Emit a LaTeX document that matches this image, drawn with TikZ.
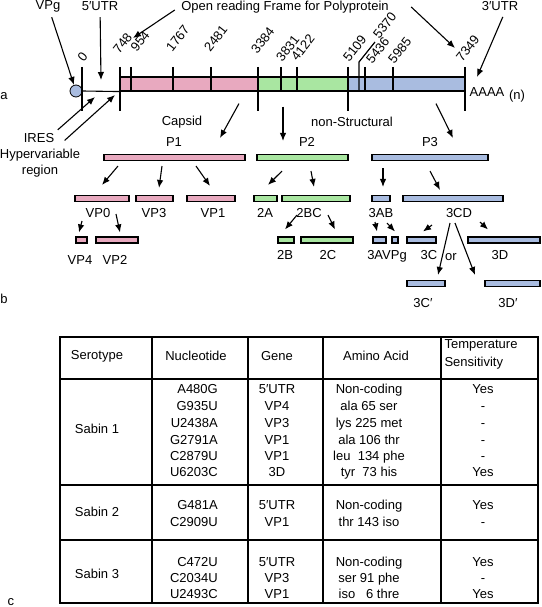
\documentclass[tikz,border=0pt]{standalone}
\usepackage{fontspec}
\setmainfont{Liberation Sans}
\usetikzlibrary{arrows.meta}
\definecolor{capsid}{HTML}{E8A9BF}
\definecolor{nonstr}{HTML}{A9E6A1}
\definecolor{repl}{HTML}{A9BCE0}

\begin{document}
\begin{tikzpicture}[x=1pt, y=-1pt, font=\fontsize{13}{16}\selectfont,
    seg/.style={draw, line width=1.1pt, inner sep=0pt, minimum height=14},
    bar/.style={draw, line width=1.1pt, inner sep=0pt, minimum height=6},
    arr/.style={-{Latex[length=8pt,width=6.5pt]}, line width=1.1pt},
    cell/.style={inner sep=0pt, text height=9pt, text depth=3pt}]
    \useasboundingbox (0,0) rectangle (541,607);

    \node (la) at (4,96) {a};
    \node (lb) at (4,299) {b};
    \node (lc) at (11,602) {c};

    \node[seg, fill=capsid, minimum width=138] (seg1) at (189,84) {};
    \node[seg, fill=nonstr, minimum width=90] (seg2) at (303,84) {};
    \node[seg, fill=repl, minimum width=117] (seg3) at (406.5,84) {};
    \node[circle, draw, fill=repl, line width=0.8pt, inner sep=0pt, minimum size=12] (vpg) at (76,91) {};
    \draw[line width=1.1pt] (vpg.east) -- (seg1.south west);

    \foreach \x in {82,120,258,348,465}
        \draw[line width=1.2pt] (\x,67) -- (\x,111);
    \foreach \x in {131,173,211,281,297,365,393}
        \draw[line width=1.2pt] (\x,67) -- (\x,91);
    \draw[line width=1.2pt] (359,91) -- (359,62) -- (375,42);
    \foreach \x/\y/\t in {84/63/0, 119.5/55/748, 137/53/954, 172.5/53/1767, 210.5/53/2481,
        257.5/55/3384, 282.5/63/3831, 297.5/62/4122, 349.5/63/5109, 379.5/40/5370,
        372.5/65/5436, 394.5/65/5985, 462.5/63/7349}
        \node[rotate=52, anchor=south west, inner sep=0pt] (t\t) at (\x,\y) {\t};

    \node (polya) at (487,92) {AAAA};
    \node (polyn) at (517,96) {(n)};

    \node (vpgt) at (48,6) {VPg};
    \node (utr5) at (100,6) {5′UTR};
    \node (orf) at (285,7) {Open reading Frame for Polyprotein};
    \node (utr3) at (500,6) {3′UTR};
    \node (ires) at (39,138) {IRES};
    \node[align=center] (hyper) at (40,163) {Hypervariable\\region};
    \node (capl) at (182,122) {Capsid};
    \node (nsl) at (352,122) {non-Structural};

    \coordinate (utr5p) at (101,80);
    \coordinate (orfl) at (133,38);
    \coordinate (orfr) at (455,48);
    \coordinate (utr3p) at (477,77);
    \coordinate (iresp) at (95,97);
    \coordinate (hyperp) at (115,95);

    \draw[arr, shorten <=2pt] (vpgt) -- (vpg);
    \draw[arr, shorten <=3pt] (utr5) -- (utr5p);
    \draw[arr] ([xshift=-3,yshift=-3]orf.west) -- (orfl);
    \draw[arr] ([xshift=19]orf.east) -- (orfr);
    \draw[arr, shorten <=3pt] ([xshift=4]utr3.south) -- (utr3p);
    \draw[arr] (ires.north east) -- (iresp);
    \draw[arr] ([xshift=-19,yshift=5]hyper.north east) -- (hyperp);

    \node[bar, fill=capsid, minimum width=141] (p1) at (174.5,157.5) {};
    \node[bar, fill=nonstr, minimum width=91] (p2) at (302.5,157.5) {};
    \node[bar, fill=repl, minimum width=116] (p3) at (430,157.5) {};
    \node (p1l) at (174,142) {P1};
    \node (p2l) at (307,142) {P2};
    \node (p3l) at (430,142) {P3};

    \draw[arr] ([xshift=50,yshift=-12]seg1.south) -- ([xshift=45.5,yshift=16]p1.north);
    \draw[arr] ([xshift=-20,yshift=-15]seg2.south) -- ([xshift=-19.5,yshift=13]p2.north);
    \draw[arr] ([xshift=29.5,yshift=-12]seg3.south) -- ([xshift=23,yshift=16]p3.north);

    \node[bar, fill=capsid, minimum width=54] (vp0) at (102,198.5) {};
    \node[bar, fill=capsid, minimum width=37] (vp3) at (154.5,198.5) {};
    \node[bar, fill=capsid, minimum width=48] (vp1) at (211,198.5) {};
    \node[bar, fill=nonstr, minimum width=23] (a2) at (265.5,198.5) {};
    \node[bar, fill=nonstr, minimum width=68] (bc2) at (316,198.5) {};
    \node[bar, fill=repl, minimum width=18] (ab3) at (381,198.5) {};
    \node[bar, fill=repl, minimum width=100] (cd3) at (453,198.5) {};
    \node (vp0l) at (98,213) {VP0};
    \node (vp3l) at (154,213) {VP3};
    \node (vp1l) at (213,213) {VP1};
    \node (a2l) at (265,213) {2A};
    \node (bc2l) at (309,213) {2BC};
    \node (ab3l) at (381,213) {3AB};
    \node (cd3l) at (459,213) {3CD};

    \draw[arr] ([xshift=-56.5,yshift=-5]p1.south) -- ([yshift=10]vp0.north);
    \draw[arr] ([xshift=-12.5,yshift=-5]p1.south) -- ([xshift=4.5,yshift=7]vp3.north);
    \draw[arr] ([xshift=21.5,yshift=-5]p1.south) -- ([xshift=-1,yshift=9]vp1.north);
    \draw[arr] ([xshift=-20.5,yshift=-10]p2.south) -- ([xshift=2.5,yshift=10]a2.north);
    \draw[arr] ([xshift=8.5,yshift=-10]p2.south) -- ([xshift=-2,yshift=8]bc2.north);
    \draw[arr] ([xshift=-47,yshift=-7]p3.south) -- ([xshift=2,yshift=8]ab3.north);
    \draw[arr] ([yshift=-10]p3.south) -- ([xshift=-13,yshift=5]cd3.north);

    \node[bar, fill=capsid, minimum width=11] (vp4) at (81.5,240) {};
    \node[bar, fill=capsid, minimum width=42] (vp2) at (117,240) {};
    \node[bar, fill=nonstr, minimum width=16] (b2) at (286,240) {};
    \node[bar, fill=nonstr, minimum width=52] (c2) at (327,240) {};
    \node[bar, fill=repl, minimum width=13] (a3) at (379.5,240) {};
    \node[bar, fill=repl, minimum width=6] (vpg3) at (395,240) {};
    \node[bar, fill=repl, minimum width=29] (c3) at (421.5,240) {};
    \node[bar, fill=repl, minimum width=72] (d3) at (504,240) {};
    \node (vp4l) at (80,260) {VP4};
    \node (vp2l) at (115,260) {VP2};
    \node (b2l) at (285,255) {2B};
    \node (c2l) at (328,255) {2C};
    \node (avpgl) at (387,256) {3AVPg};
    \node (c3l) at (429,255) {3C};
    \node (orl) at (451,257) {or};
    \node (d3l) at (500,255) {3D};

    \draw[arr] ([xshift=-20,yshift=-19]vp0.south) -- ([xshift=-2.5,yshift=4]vp4.north);
    \draw[arr] ([xshift=14,yshift=-12]vp0.south) -- ([xshift=3,yshift=4]vp2.north);
    \draw[arr] ([xshift=-19,yshift=-13]bc2.south) -- ([xshift=-1,yshift=7]b2.north);
    \draw[arr] ([xshift=12,yshift=-13]bc2.south) -- ([xshift=8,yshift=7]c2.north);
    \draw[arr] ([xshift=-6,yshift=-20]ab3.south) -- ([xshift=-2.5,yshift=5]a3.north);
    \draw[arr] ([xshift=6,yshift=-21]ab3.south) -- ([yshift=5]vpg3.north);
    \draw[arr] ([xshift=-21,yshift=-23]cd3.south) -- ([xshift=1.5,yshift=5]c3.north);
    \draw[arr] ([xshift=27,yshift=-20]cd3.south) -- ([xshift=-16,yshift=7]d3.north);

    \node[bar, fill=repl, minimum width=38] (c3p) at (426,283.5) {};
    \node[bar, fill=repl, minimum width=55] (d3p) at (512.5,283.5) {};
    \node (c3pl) at (423,303) {3C′};
    \node (d3pl) at (508,303) {3D′};

    \draw[arr] ([xshift=-3,yshift=-21]cd3.south) -- ([xshift=12,yshift=5]c3p.north);
    \draw[arr] ([xshift=2,yshift=-21]cd3.south) -- ([xshift=-37.5,yshift=5]d3p.north);

    \draw[line width=1.3pt] (60,337) rectangle (538,603);
    \foreach \x in {152,248,323,441}
        \draw[line width=1.3pt] (\x,337) -- (\x,603);
    \foreach \y in {379,485,540}
        \draw[line width=1.3pt] (60,\y) -- (538,\y);

    \node (hsero) at (97,356) {Serotype};
    \node (hnuc) at (196,356) {Nucleotide};
    \node (hgene) at (277,356) {Gene};
    \node (hamino) at (376,356) {Amino Acid};
    \node[align=left, anchor=west] (htemp) at (441,354) {Temperature\\[2pt]Sensitivity};

    \node (s1) at (97,429) {Sabin 1};
    \node (s2) at (97,512) {Sabin 2};
    \node (s3) at (97,574) {Sabin 3};

    \foreach \y/\n/\g/\a/\t in {390/A480G/5′UTR/Non-coding/Yes, 407/G935U/VP4/ala 65 ser/-,
        424/U2438A/VP3/lys 225 met/-, 441/G2791A/VP1/ala 106 thr/-,
        457/C2879U/VP1/leu\ \ 134 phe/-, 473/U6203C/3D/tyr\ \ 73 his/Yes,
        506/G481A/5′UTR/Non-coding/Yes, 523/C2909U/VP1/thr 143 iso/-,
        563/C472U/5′UTR/Non-coding/Yes, 579/C2034U/VP3/ser 91 phe/-,
        595/U2493C/VP1/iso\ \ \ 6 thre/Yes}
    {
        \node[cell, anchor=east] (n\y) at (218,\y) {\n};
        \node[cell] (g\y) at (277,\y) {\g};
        \node[cell] (m\y) at (369,\y) {\a};
        \node[cell] (s\y) at (483,\y) {\t};
    }
\end{tikzpicture}
\end{document}
